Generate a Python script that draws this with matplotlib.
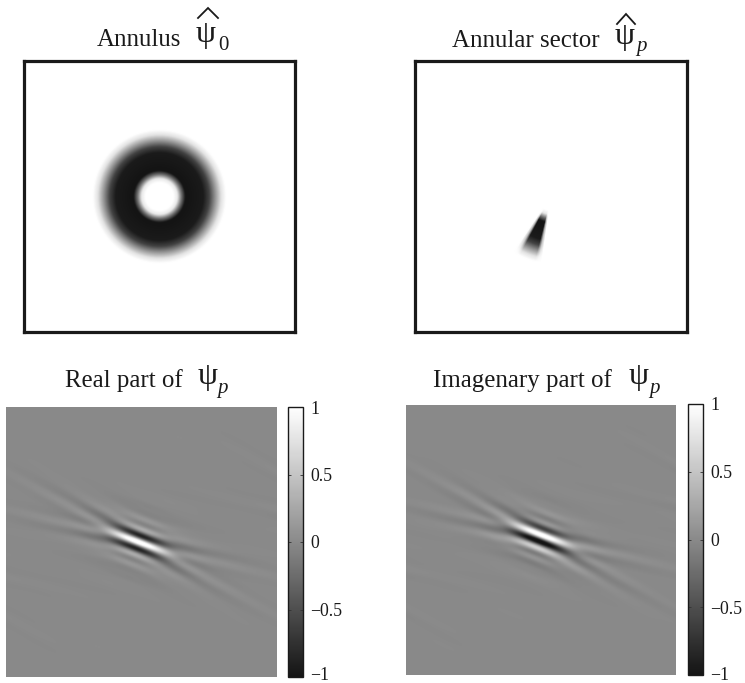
import numpy as np
import matplotlib
matplotlib.use("Agg")
import matplotlib.pyplot as plt
from matplotlib.colors import LinearSegmentedColormap
from matplotlib.lines import Line2D
from matplotlib.transforms import ScaledTranslation

W, H = 745, 683
plt.rcParams['font.family'] = ['Liberation Serif', 'DejaVu Serif']

# readings from the picture
radial_px = [0, 14, 18, 22, 26, 44, 50, 56, 62, 67, 400]        # distance from centre of the annulus, px
radial_dark = [0, 0, 0.1, 0.6, 1, 0.97, 0.8, 0.45, 0.12, 0, 0]  # darkness at this distance
sector_deg = [-13, -10, -7, 7, 10, 13]                          # angle from the sector axis
sector_gain = [0, 0.3, 1, 1, 0.3, 0]                            # window over that angle
sector_axis_deg = 21.0                                          # axis, from straight down, towards the left
freq_per_px = 0.45                                              # cycles per image, per px of the annulus plot
display_gain = 1.2                                              # contrast of the wavelet images
cbar_ticks = [-1, -0.5, 0, 0.5, 1]
cbar_labels = ['\u22121', '\u22120.5', '0', '0.5', '1']
image_shift_px = [(-3, 0), (-1, -2)]                            # place of the wavelet centre in each panel
low_label_lift_px = [3.5, 2]                                    # lift of the lowest colorbar label

titles = [('Annulus', 97, 46), ('Annular sector', 452, 47),
          ('Real part of', 65, 387), ('Imagenary part of', 433, 387)]
psi_marks = [(196, 42), (615, 44), (198, 384), (629, 384)]
hat_marks = [(198, 208, 218, 8, 18), (617, 626, 635, 14, 24)]
subscripts = [('0', 'normal', 218, 50), ('p', 'italic', 636, 51),
              ('p', 'italic', 217, 393), ('p', 'italic', 649, 393)]
INK = '#1a1a1a'
greys = LinearSegmentedColormap.from_list('greys_soft', ['#141414', '#ffffff'])


def axpx(fig, x0, y0, x1, y1):
    return fig.add_axes([x0 / W, 1 - y1 / H, (x1 - x0) / W, (y1 - y0) / H])


def annulus(r):
    return np.interp(r, radial_px, radial_dark)


def sector(x, y):
    r = np.hypot(x, y)
    ang = np.degrees(np.arctan2(-x, y))  # angle from "down" towards the left, y axis pointing down
    return annulus(r) * np.interp(ang - sector_axis_deg, sector_deg, sector_gain, left=0, right=0)


fig = plt.figure(figsize=(W / 100, H / 100), dpi=100)

# top row
N = 272
g = np.arange(N) - 135.5
X, Y = np.meshgrid(g, g)
top_images = [annulus(np.hypot(X, Y)), sector(X, Y)]
for img, box in zip(top_images, [(24, 61, 295, 332), (415, 61, 687, 332)]):
    ax = axpx(fig, *box)
    ax.imshow(1 - img, cmap=greys, vmin=0, vmax=1, interpolation='bilinear', aspect='auto')
    ax.set_xticks([]); ax.set_yticks([])
    for s in ax.spines.values():
        s.set_linewidth(2.3); s.set_color(INK)

# wavelet, inverse transform of the sector
M = 271
f = np.fft.fftfreq(M, 1 / M)
U, V = np.meshgrid(f, f)
psi = np.fft.fftshift(np.fft.ifft2(sector(U / freq_per_px, V / freq_per_px)))
parts = [psi.real / np.abs(psi.real).max(), -psi.imag / np.abs(psi.imag).max()]

boxes = [((6, 407, 277, 677), (288, 407, 303, 677)),
         ((406, 405, 676, 675), (688, 404, 703, 675))]
for part, (ibox, cbox), (sx, sy), lift in zip(parts, boxes, image_shift_px, low_label_lift_px):
    ax = axpx(fig, *ibox)
    shifted = np.roll(part, (sy, sx), axis=(0, 1))
    im = ax.imshow(np.clip(shifted * display_gain, -1, 1), cmap=greys, vmin=-1, vmax=1,
                   interpolation='bilinear', aspect='auto')
    ax.axis('off')
    cax = axpx(fig, *cbox)
    cb = fig.colorbar(im, cax=cax)
    cb.set_ticks(cbar_ticks, labels=cbar_labels)
    cb.ax.tick_params(direction='in', length=2.5, width=0.6, labelsize=12.8, pad=5, color='#333333',
                      left=True, right=True)
    cb.outline.set_linewidth(1.0)
    cb.outline.set_edgecolor(INK)
    labels = cb.ax.get_yticklabels()
    for t in labels:
        t.set_color(INK)
        t.set_verticalalignment('center_baseline')
    labels[0].set_transform(labels[0].get_transform()
                            + ScaledTranslation(0, lift / 100, fig.dpi_scale_trans))

for txt, x, y in titles:
    fig.text(x / W, 1 - y / H, txt, fontsize=17.9, color=INK, ha='left', va='baseline')
for x, y in psi_marks:
    fig.text(x / W, 1 - y / H, '\u03c8', fontsize=23, color=INK, ha='left', va='baseline')
for x0, xm, x1, ytop, ybot in hat_marks:
    fig.add_artist(Line2D([x0 / W, xm / W, x1 / W],
                          [1 - ybot / H, 1 - ytop / H, 1 - ybot / H],
                          transform=fig.transFigure, color=INK, lw=1.3, solid_joinstyle='miter'))
for txt, style, x, y in subscripts:
    fig.text(x / W, 1 - y / H, txt, fontsize=15, fontstyle=style, color=INK, ha='left', va='baseline')

fig.savefig('out.png', dpi=100)
